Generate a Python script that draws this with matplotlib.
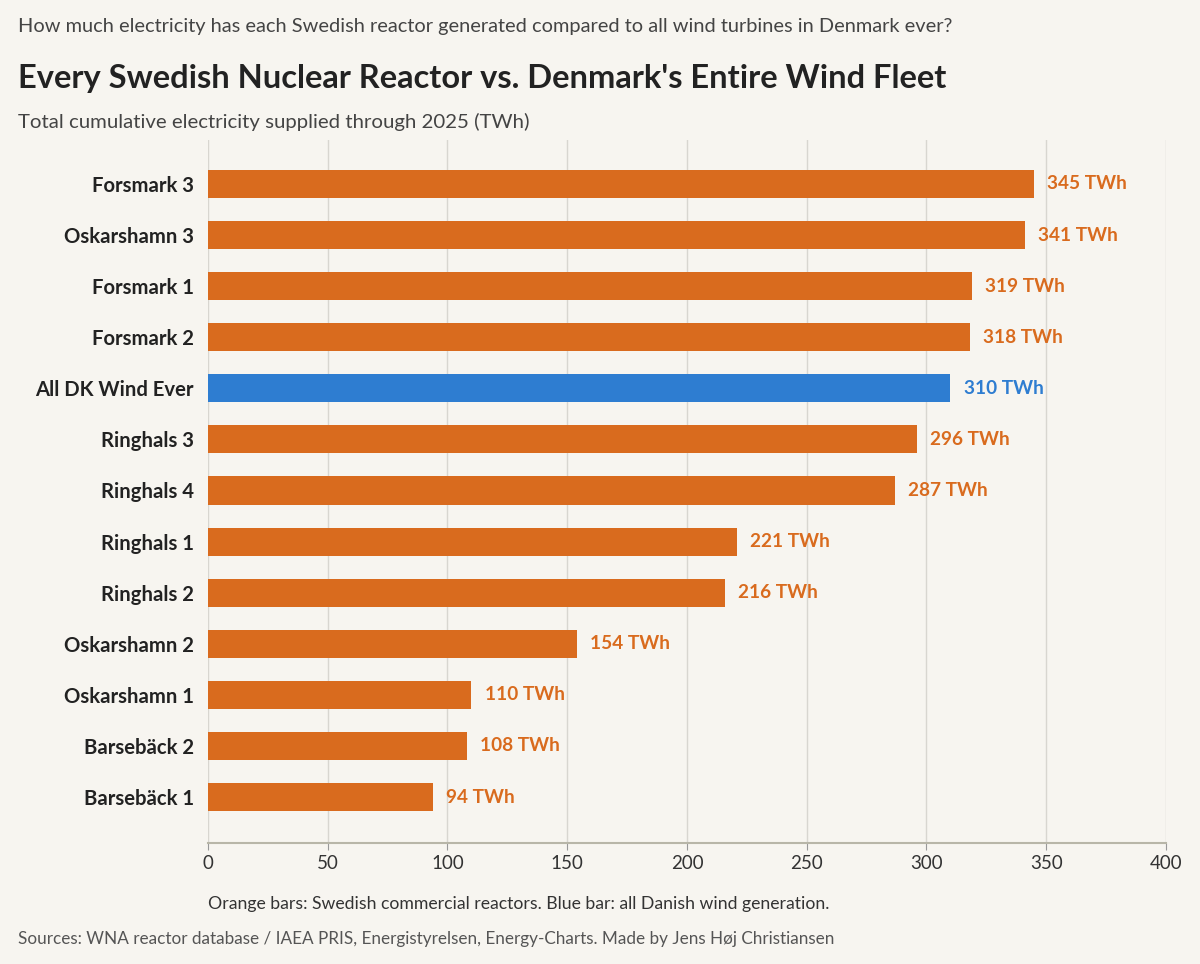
import matplotlib.pyplot as plt

plt.rcParams['font.family'] = ['Lato', 'DejaVu Sans']

names = ['Forsmark 3', 'Oskarshamn 3', 'Forsmark 1', 'Forsmark 2', 'All DK Wind Ever',
         'Ringhals 3', 'Ringhals 4', 'Ringhals 1', 'Ringhals 2', 'Oskarshamn 2',
         'Oskarshamn 1', 'Barsebäck 2', 'Barsebäck 1']
twh = [345, 341, 319, 318, 310, 296, 287, 221, 216, 154, 110, 108, 94]
is_wind = [n == 'All DK Wind Ever' for n in names]

orange = '#D96B1E'
blue = '#2E7DD1'
bg = '#F7F5F0'

fig = plt.figure(figsize=(12, 9.64), dpi=100, facecolor=bg)
ax = fig.add_axes([0.1733, 0.1255, 0.7983, 0.7293], facecolor=bg)

colors = [blue if w else orange for w in is_wind]
ypos = list(range(len(names)))
ax.barh(ypos, twh, height=0.55, color=colors, zorder=3)
for y, v, c in zip(ypos, twh, colors):
    ax.text(v + 5.5, y, f'{v} TWh', va='center', ha='left', color=c,
            fontsize=13.7, fontweight='bold')

ax.set_xlim(0, 400)
ax.set_ylim(12.9, -0.86)
ax.set_xticks(range(0, 401, 50))
ax.set_yticks(ypos)
ax.set_yticklabels(names, fontsize=14.6, fontweight='bold', color='#222222')
ax.tick_params(axis='y', length=0, pad=10)
ax.tick_params(axis='x', labelsize=13.5, colors='#333333', length=5, color='#999999')
ax.grid(axis='x', color='#D8D6D0', lw=1, zorder=0)
for s in ['top', 'right', 'left']:
    ax.spines[s].set_visible(False)
ax.spines['bottom'].set_color('#B8B6A8')
ax.spines['bottom'].set_linewidth(1.5)

fig.text(0.015, 0.972, 'How much electricity has each Swedish reactor generated compared to all wind turbines in Denmark ever?',
         fontsize=14.4, color='#444444', va='center')
fig.text(0.015, 0.919, "Every Swedish Nuclear Reactor vs. Denmark's Entire Wind Fleet",
         fontsize=23.5, fontweight='bold', color='#222222', va='center')
fig.text(0.015, 0.873, 'Total cumulative electricity supplied through 2025 (TWh)',
         fontsize=14.7, color='#444444', va='center')
fig.text(0.1733, 0.0625, 'Orange bars: Swedish commercial reactors. Blue bar: all Danish wind generation.',
         fontsize=12.7, color='#333333', va='center')
fig.text(0.015, 0.026, 'Sources: WNA reactor database / IAEA PRIS, Energistyrelsen, Energy-Charts. Made by Jens Høj Christiansen',
         fontsize=12.3, color='#555555', va='center')

fig.savefig('out.png', dpi=100, facecolor=bg)
